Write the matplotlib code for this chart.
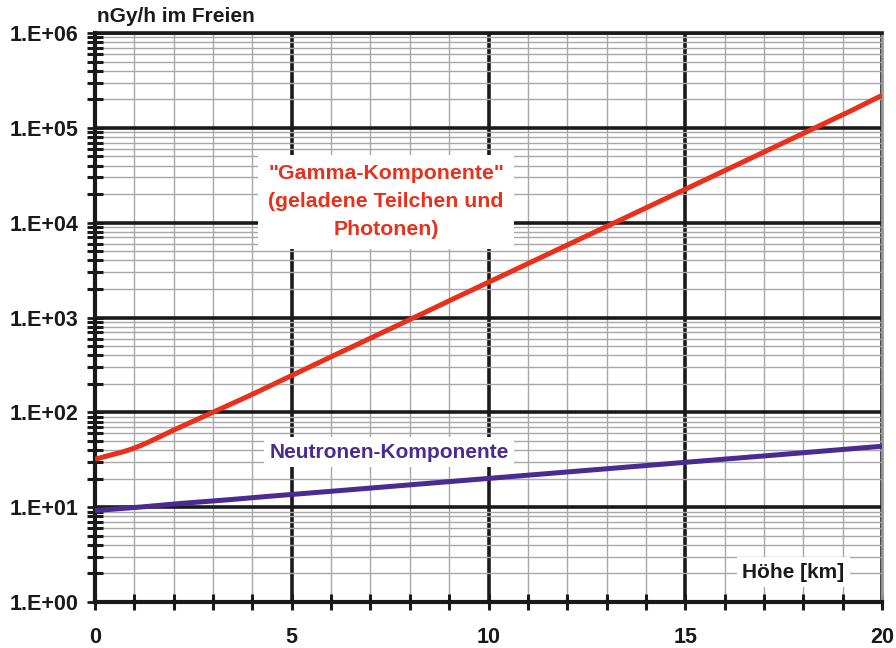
import matplotlib
matplotlib.use("Agg")
import numpy as np
import matplotlib.pyplot as plt
from matplotlib.ticker import LogLocator, NullFormatter

plt.rcParams['font.family'] = ['Liberation Sans', 'DejaVu Sans']

hoehe_km = list(range(0, 21))
gamma = [32, 42, 65, 100, 155, 245, 385, 605, 950, 1500, 2350, 3700, 5800,
         9100, 14300, 22500, 35300, 55500, 87000, 137000, 220000]
neutronen = [9.2, 9.9, 10.8, 11.6, 12.6, 13.6, 14.7, 15.9, 17.2, 18.6, 20.1,
             21.8, 23.5, 25.4, 27.5, 29.7, 32.1, 34.7, 37.5, 40.6, 43.9]
y_ticks = [1, 10, 100, 1000, 10000, 100000, 1000000]
y_labels = ["1.E+00", "1.E+01", "1.E+02", "1.E+03", "1.E+04", "1.E+05", "1.E+06"]
x_ticks = [0, 5, 10, 15, 20]

red = '#E8301C'
purple = '#4B2A92'


def smooth(x, y, n=20):
    """Cubic Hermite smoothing in log space (drawing only, like Excel's smoothed line)."""
    x = np.asarray(x, float)
    ly = np.log10(np.asarray(y, float))
    m = np.gradient(ly, x)
    xs, ys = [], []
    for i in range(len(x) - 1):
        h = x[i + 1] - x[i]
        t = np.linspace(0, 1, n, endpoint=False)
        h00 = 2*t**3 - 3*t**2 + 1
        h10 = t**3 - 2*t**2 + t
        h01 = -2*t**3 + 3*t**2
        h11 = t**3 - t**2
        xs.append(x[i] + t*h)
        ys.append(h00*ly[i] + h10*h*m[i] + h01*ly[i+1] + h11*h*m[i+1])
    xs.append([x[-1]])
    ys.append([ly[-1]])
    return np.concatenate(xs), 10**np.concatenate(ys)


fig = plt.figure(figsize=(8.96, 6.48), dpi=100)
ax = fig.add_axes([95/896, 1-602/648, (882-95)/896, (602-33)/648])
ax.set_yscale('log')
ax.set_xlim(0, 20)
ax.set_ylim(1, 1e6)

ax.set_xticks(x_ticks)
ax.set_xticks(range(0, 21), minor=True)
ax.set_yticks(y_ticks)
ax.set_yticklabels(y_labels)
ax.yaxis.set_minor_locator(LogLocator(base=10, subs=range(2, 10)))
ax.yaxis.set_minor_formatter(NullFormatter())
ax.grid(which='minor', color='#A8A8A8', linewidth=1.0, zorder=0)
ax.grid(which='major', color='#1A1A1A', linewidth=2.6, zorder=0.5)
ax.set_axisbelow(True)

gx, gy = smooth(hoehe_km, gamma)
nx, ny = smooth(hoehe_km, neutronen)
ax.plot(gx, gy, color=red, linewidth=3.6, solid_capstyle='butt', zorder=3)
ax.plot(nx, ny, color=purple, linewidth=3.6, solid_capstyle='butt', zorder=3)

for s in ['left', 'bottom']:
    ax.spines[s].set_linewidth(3)
    ax.spines[s].set_color('#1A1A1A')
ax.spines['top'].set_linewidth(2.6)
ax.spines['top'].set_color('#1A1A1A')
ax.spines['right'].set_linewidth(2)
ax.spines['right'].set_color('#999999')

ax.tick_params(axis='y', which='major', direction='inout', length=12, width=2,
               color='#1A1A1A', pad=6, labelsize=15.5)
ax.tick_params(axis='y', which='minor', direction='inout', length=12, width=2.2,
               color='#1A1A1A')
ax.tick_params(axis='x', which='both', direction='inout', length=12, width=2.2,
               color='#1A1A1A', pad=12, labelsize=15.5)
for lab in ax.get_xticklabels() + ax.get_yticklabels():
    lab.set_fontweight('bold')
    lab.set_color('#1A1A1A')

fig.text(97/896, 1-17/648, "nGy/h im Freien", fontsize=15, fontweight='bold',
         color='#1A1A1A', ha='left', va='center')

bbox = dict(facecolor='white', edgecolor='none', pad=4)
ax.text(7.4, 10**4.22, "\"Gamma-Komponente\"\n(geladene Teilchen und\nPhotonen)",
        color=red, fontsize=15.3, fontweight='bold', ha='center', va='center',
        linespacing=1.6, bbox=dict(facecolor='white', edgecolor='none', pad=7), zorder=4)
ax.text(7.47, 10**1.58, "Neutronen-Komponente", color=purple, fontsize=15,
        fontweight='bold', ha='center', va='center', bbox=bbox, zorder=4)
ax.text(17.75, 10**0.316, "Höhe [km]", color='#1A1A1A', fontsize=15,
        fontweight='bold', ha='center', va='center', bbox=bbox, zorder=4)

fig.savefig('out.png', dpi=100)
